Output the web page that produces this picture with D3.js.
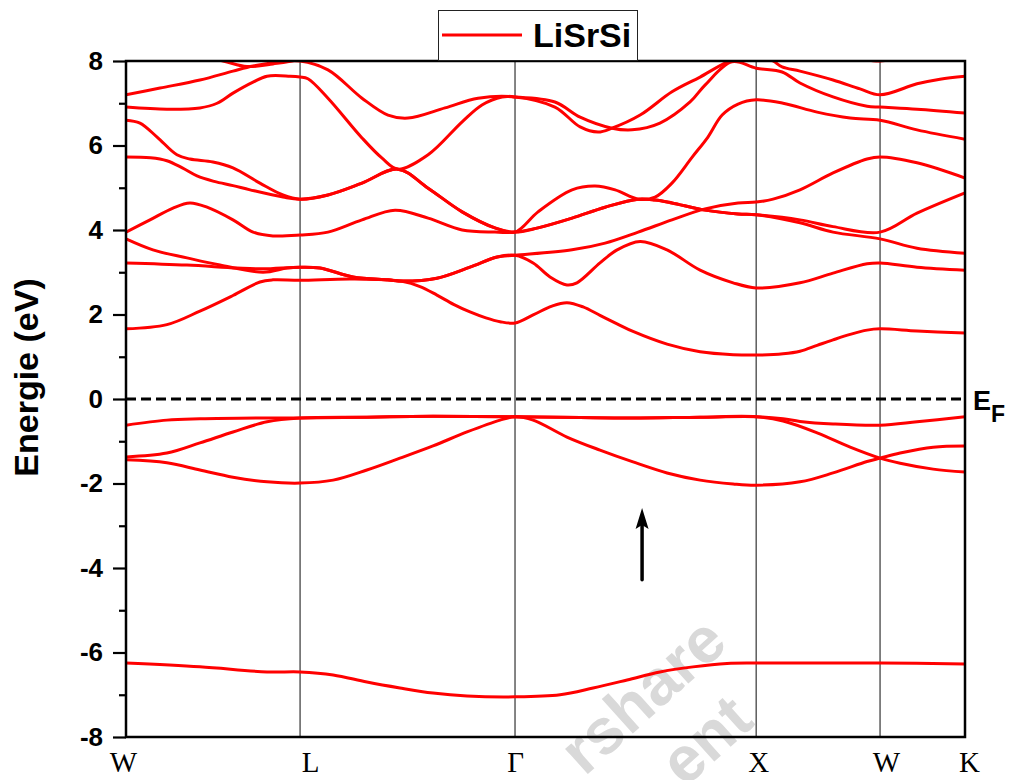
<!DOCTYPE html>
<html>
<head>
<meta charset="utf-8">
<script src="https://cdn.jsdelivr.net/npm/d3@7"></script>
<style>
  html, body { margin: 0; padding: 0; background: #ffffff; }
  svg { display: block; }
</style>
</head>
<body>
<svg id="chart" width="1013" height="780"></svg>
<script>
// ---------------- DATA ----------------
// High-symmetry points along the k-path (path length, units of 2π/a)
const kTicks  = [0, 0.711, 1.589, 2.574, 3.080, 3.427];
const kLabels = ["W", "L", "Γ", "X", "W", "K"];
const yMajor  = [-8, -6, -4, -2, 0, 2, 4, 6, 8];
const yMinor  = [-7, -5, -3, -1, 1, 3, 5, 7];
const fermiLevel = 0;
const seriesName = "LiSrSi";
const yTitle = "Energie (eV)";
const fermiLabel = "E";
const fermiSub = "F";
// spin-up arrow (k position, energy from -> to)
const arrowK = 2.108, arrowFrom = -4.28, arrowTo = -2.58;

// Bands: [k, E (eV)]
const b01 = [[0,-6.25],[0.302,-6.34],[0.576,-6.46],[0.711,-6.46],[0.846,-6.53],[0.984,-6.70],[1.119,-6.84],[1.254,-6.96],[1.393,-7.03],[1.589,-7.05],[1.773,-7.00],[1.908,-6.84],[2.047,-6.65],[2.181,-6.46],[2.316,-6.34],[2.455,-6.26],[2.574,-6.25],[2.823,-6.25],[3.080,-6.25],[3.427,-6.27]];
const b02 = [[0,-1.44],[0.167,-1.51],[0.302,-1.68],[0.437,-1.85],[0.576,-1.96],[0.711,-1.99],[0.846,-1.92],[0.984,-1.68],[1.119,-1.40],[1.254,-1.11],[1.393,-0.78],[1.528,-0.50],[1.589,-0.42],[1.663,-0.50],[1.801,-0.90],[1.936,-1.21],[2.071,-1.49],[2.210,-1.75],[2.345,-1.92],[2.480,-2.01],[2.574,-2.04],[2.753,-1.96],[2.888,-1.75],[3.027,-1.48],[3.080,-1.40],[3.162,-1.28],[3.297,-1.14],[3.427,-1.11]];
const b03 = [[0,-1.37],[0.167,-1.28],[0.302,-1.04],[0.437,-0.78],[0.576,-0.54],[0.711,-0.45],[0.984,-0.43],[1.254,-0.41],[1.589,-0.42],[1.855,-0.44],[2.071,-0.45],[2.345,-0.43],[2.574,-0.42],[2.684,-0.52],[2.823,-0.80],[2.958,-1.14],[3.080,-1.40],[3.162,-1.52],[3.297,-1.66],[3.427,-1.73]];
const b04 = [[0,-0.62],[0.167,-0.50],[0.302,-0.47],[0.576,-0.45],[0.711,-0.45],[0.984,-0.43],[1.254,-0.41],[1.589,-0.42],[1.855,-0.44],[2.071,-0.45],[2.345,-0.43],[2.574,-0.42],[2.684,-0.47],[2.753,-0.53],[2.888,-0.59],[3.080,-0.62],[3.231,-0.54],[3.427,-0.42]];
const b05 = [[0,1.66],[0.167,1.76],[0.302,2.08],[0.437,2.45],[0.547,2.77],[0.600,2.82],[0.711,2.81],[0.927,2.84],[1.132,2.78],[1.201,2.66],[1.270,2.46],[1.338,2.24],[1.405,2.06],[1.470,1.92],[1.528,1.83],[1.589,1.80],[1.663,1.99],[1.740,2.20],[1.801,2.28],[1.867,2.18],[1.936,1.98],[2.006,1.78],[2.071,1.60],[2.210,1.30],[2.345,1.12],[2.480,1.05],[2.574,1.04],[2.684,1.07],[2.753,1.13],[2.823,1.27],[2.888,1.40],[2.958,1.53],[3.027,1.63],[3.080,1.66],[3.231,1.61],[3.427,1.56]];
const b06 = [[0,3.22],[0.249,3.17],[0.453,3.10],[0.560,3.08],[0.711,3.12],[0.792,3.10],[0.927,2.89],[1.070,2.82],[1.132,2.79],[1.270,2.86],[1.405,3.12],[1.516,3.36],[1.589,3.40],[1.663,3.22],[1.732,2.89],[1.801,2.70],[1.842,2.75],[1.936,3.22],[2.006,3.53],[2.100,3.73],[2.210,3.53],[2.345,3.05],[2.480,2.75],[2.574,2.63],[2.753,2.75],[2.888,2.98],[3.027,3.20],[3.080,3.22],[3.231,3.12],[3.427,3.05]];
const b07 = [[0,3.79],[0.110,3.53],[0.249,3.34],[0.384,3.17],[0.560,3.00],[0.658,3.10],[0.711,3.12],[0.792,3.10],[0.927,2.89],[1.070,2.82],[1.132,2.79],[1.270,2.86],[1.405,3.12],[1.516,3.36],[1.589,3.40],[1.822,3.53],[1.957,3.69],[2.092,3.95],[2.230,4.24],[2.365,4.50],[2.500,4.64],[2.574,4.66],[2.643,4.73],[2.753,4.95],[2.888,5.35],[3.027,5.68],[3.080,5.73],[3.231,5.59],[3.427,5.23]];
const b08 = [[0,3.95],[0.098,4.24],[0.192,4.52],[0.261,4.64],[0.331,4.54],[0.437,4.24],[0.519,3.95],[0.600,3.86],[0.711,3.88],[0.825,3.95],[0.964,4.24],[1.099,4.47],[1.234,4.28],[1.373,4.00],[1.507,3.95],[1.589,3.95],[1.683,4.05],[1.822,4.28],[1.957,4.54],[2.092,4.73],[2.161,4.71],[2.230,4.64],[2.365,4.47],[2.500,4.38],[2.574,4.36],[2.753,4.24],[2.888,4.08],[3.080,3.95],[3.231,4.40],[3.427,4.88]];
const b09 = [[0,5.73],[0.100,5.71],[0.167,5.64],[0.230,5.47],[0.290,5.28],[0.360,5.15],[0.437,5.05],[0.507,4.95],[0.641,4.78],[0.711,4.73],[0.825,4.83],[0.964,5.11],[1.111,5.44],[1.234,4.99],[1.373,4.43],[1.507,4.05],[1.589,3.95],[1.683,4.05],[1.822,4.28],[1.957,4.54],[2.092,4.73],[2.161,4.71],[2.230,4.64],[2.365,4.47],[2.500,4.38],[2.574,4.36],[2.753,4.17],[2.888,3.95],[3.080,3.79],[3.231,3.57],[3.427,3.45]];
const b10 = [[0,6.60],[0.057,6.53],[0.127,6.20],[0.208,5.78],[0.261,5.68],[0.355,5.61],[0.437,5.47],[0.547,5.11],[0.641,4.83],[0.711,4.73],[0.825,4.83],[0.964,5.11],[1.111,5.44],[1.234,4.99],[1.373,4.43],[1.507,4.05],[1.589,3.95],[1.683,4.43],[1.822,4.95],[1.916,5.04],[1.998,4.95],[2.092,4.73],[2.161,4.78],[2.230,5.11],[2.312,5.72],[2.377,6.20],[2.435,6.72],[2.500,6.98],[2.574,7.08],[2.684,7.00],[2.823,6.79],[2.958,6.65],[3.080,6.60],[3.231,6.37],[3.427,6.15]];
const b11 = [[0,6.91],[0.167,6.86],[0.302,6.89],[0.372,7.00],[0.437,7.24],[0.519,7.50],[0.576,7.64],[0.670,7.64],[0.711,7.62],[0.743,7.58],[0.825,7.12],[0.964,6.18],[1.046,5.70],[1.111,5.44],[1.234,5.78],[1.373,6.56],[1.454,6.96],[1.536,7.15],[1.589,7.15],[1.752,7.03],[1.855,6.67],[1.985,6.41],[2.067,6.37],[2.181,6.53],[2.304,7.03],[2.365,7.43],[2.475,7.98],[2.574,7.83],[2.680,7.74],[2.753,7.48],[2.888,7.15],[3.027,6.93],[3.080,6.91],[3.231,6.86],[3.427,6.77]];
const b12 = [[0,7.20],[0.139,7.36],[0.302,7.55],[0.437,7.76],[0.519,7.88],[0.629,7.98],[0.711,8.00],[0.825,7.79],[0.964,7.12],[1.070,6.72],[1.152,6.65],[1.303,6.89],[1.438,7.12],[1.589,7.15],[1.752,6.91],[1.855,6.44],[1.928,6.32],[1.985,6.41],[2.100,6.72],[2.230,7.27],[2.345,7.62],[2.459,7.98],[2.574,8.15],[2.643,8.00],[2.680,7.86],[2.753,7.76],[2.888,7.55],[2.998,7.34],[3.080,7.20],[3.231,7.46],[3.325,7.57],[3.427,7.64]];
const b13 = [[0,8.00],[0.192,8.25],[0.396,8.00],[0.494,7.87],[0.600,7.93],[0.711,8.05],[0.846,8.40],[1.119,8.80],[1.589,9.00],[2.100,8.80],[2.574,8.50],[2.888,8.20],[3.080,8.00],[3.231,8.20],[3.427,8.40]];
const bands = [b01, b02, b03, b04, b05, b06, b07, b08, b09, b10, b11, b12, b13];

// ---------------- DRAWING ----------------
const svg = d3.select("#chart");
const pLeft = 126, pRight = 965, pTop = 61, pBottom = 737;
const x = d3.scaleLinear().domain([kTicks[0], kTicks[kTicks.length - 1]]).range([pLeft, pRight]);
const y = d3.scaleLinear().domain([-8, 8]).range([pBottom, pTop]);
const RED = "#ff0000";

svg.append("rect").attr("width", 1013).attr("height", 780).attr("fill", "#fff");

// watermark (behind everything)
const wm = svg.append("g").attr("fill", "#d9d9d9").attr("font-family", "Liberation Sans, Arial, sans-serif")
  .attr("font-weight", "bold").attr("font-size", 64).attr("text-anchor", "end");
wm.append("text").attr("transform", "translate(730,646) rotate(-42)").text("rshare");
wm.append("text").attr("transform", "translate(756,724) rotate(-42)").text("ent");

svg.append("defs").append("clipPath").attr("id", "plotClip")
  .append("rect").attr("x", pLeft).attr("y", pTop).attr("width", pRight - pLeft).attr("height", pBottom - pTop);

// vertical high-symmetry lines
svg.append("g").selectAll("line").data(kTicks.slice(1, -1)).join("line")
  .attr("x1", d => x(d)).attr("x2", d => x(d)).attr("y1", pTop).attr("y2", pBottom)
  .attr("stroke", "#333").attr("stroke-width", 1.2);

// Fermi level
svg.append("line").attr("x1", pLeft).attr("x2", pRight).attr("y1", y(fermiLevel)).attr("y2", y(fermiLevel))
  .attr("stroke", "#000").attr("stroke-width", 3).attr("stroke-dasharray", "10,5");

// bands
const line = d3.line().x(d => x(d[0])).y(d => y(d[1])).curve(d3.curveCatmullRom.alpha(0.5));
svg.append("g").attr("clip-path", "url(#plotClip)").selectAll("path").data(bands).join("path")
  .attr("d", line).attr("fill", "none").attr("stroke", RED).attr("stroke-width", 3)
  .attr("stroke-linejoin", "round").attr("stroke-linecap", "round");

// frame
svg.append("rect").attr("x", pLeft).attr("y", pTop).attr("width", pRight - pLeft).attr("height", pBottom - pTop)
  .attr("fill", "none").attr("stroke", "#000").attr("stroke-width", 2.5);

// y axis
const gy = svg.append("g").attr("transform", `translate(${pLeft},0)`)
  .call(d3.axisLeft(y).tickValues(yMajor).tickSize(13).tickPadding(10).tickFormat(d => String(d)));
gy.select(".domain").remove();
gy.selectAll(".tick line").attr("stroke", "#000").attr("stroke-width", 2.2);
gy.selectAll(".tick text").attr("font-family", "Liberation Sans, Arial, sans-serif")
  .attr("font-weight", "bold").attr("font-size", 26).attr("fill", "#000");
const gyMinor = svg.append("g").attr("transform", `translate(${pLeft},0)`)
  .call(d3.axisLeft(y).tickValues(yMinor).tickSize(7).tickFormat(() => ""));
gyMinor.select(".domain").remove();
gyMinor.selectAll(".tick line").attr("stroke", "#000").attr("stroke-width", 2.2);

// x axis labels
const labelNudge = [-3, 10, 0, 2, 6, 4];
const gx = svg.append("g").attr("transform", `translate(0,${pBottom})`)
  .call(d3.axisBottom(x).tickValues(kTicks).tickSize(0).tickPadding(0).tickFormat((d, i) => kLabels[i]));
gx.select(".domain").remove();
gx.selectAll(".tick text").attr("y", 35).attr("dy", 0).attr("x", (d, i) => labelNudge[i])
  .attr("font-family", "Liberation Serif, Times New Roman, serif").attr("font-size", 29).attr("fill", "#000");

// y title
svg.append("text").attr("transform", "translate(38,377.5) rotate(-90)").attr("text-anchor", "middle")
  .attr("font-family", "Liberation Sans, Arial, sans-serif").attr("font-weight", "bold").attr("font-size", 34)
  .text(yTitle);

// E_F label
const ef = svg.append("text").attr("x", pRight + 8).attr("y", y(fermiLevel) + 11)
  .attr("font-family", "Liberation Sans, Arial, sans-serif").attr("font-weight", "bold");
ef.append("tspan").attr("font-size", 27).text(fermiLabel);
ef.append("tspan").attr("font-size", 23).attr("dy", 12).text(fermiSub);

// arrow
const ax = x(arrowK);
svg.append("line").attr("x1", ax).attr("x2", ax).attr("y1", y(arrowFrom)).attr("y2", y(arrowTo) + 16)
  .attr("stroke", "#000").attr("stroke-width", 3.5).attr("stroke-linecap", "round");
svg.append("path")
  .attr("d", `M${ax},${y(arrowTo)} L${ax - 6.5},${y(arrowTo) + 21} L${ax},${y(arrowTo) + 17} L${ax + 6.5},${y(arrowTo) + 21} Z`)
  .attr("fill", "#000");

// legend
svg.append("rect").attr("x", 438.5).attr("y", 10.5).attr("width", 199).attr("height", 50)
  .attr("fill", "#fff").attr("stroke", "#222").attr("stroke-width", 1);
svg.append("line").attr("x1", 442).attr("x2", 522).attr("y1", 35).attr("y2", 35)
  .attr("stroke", RED).attr("stroke-width", 3);
svg.append("text").attr("x", 533).attr("y", 47)
  .attr("font-family", "Liberation Sans, Arial, sans-serif").attr("font-weight", "bold").attr("font-size", 34)
  .text(seriesName);
</script>
</body>
</html>
